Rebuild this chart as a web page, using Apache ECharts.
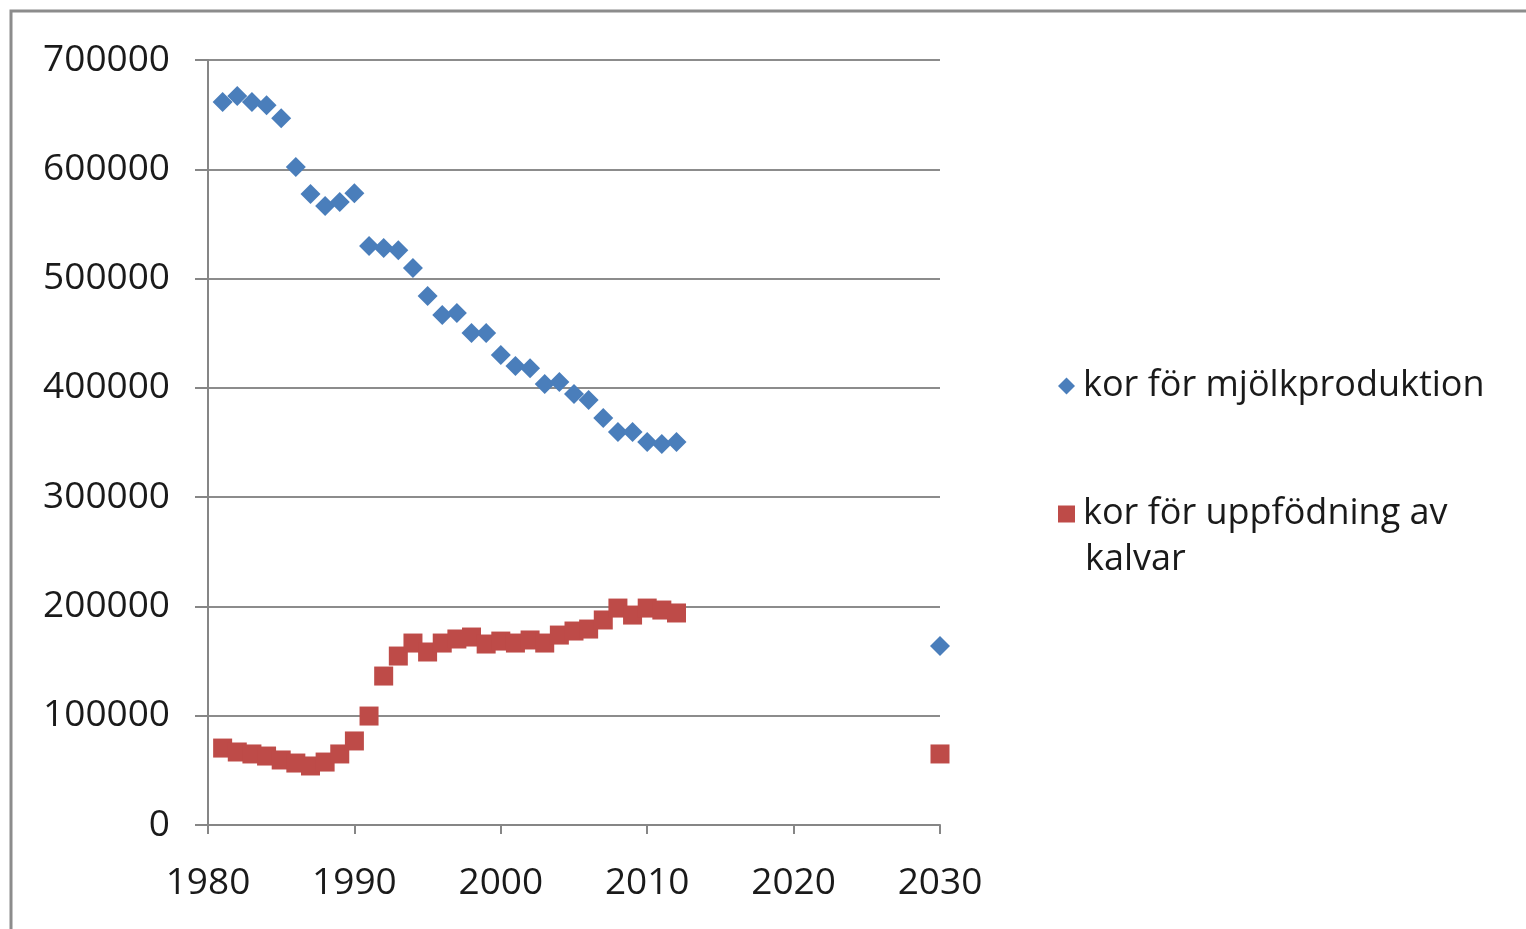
<!DOCTYPE html>
<html>
<head>
<meta charset="utf-8">
<script src="https://cdn.jsdelivr.net/npm/echarts@6/dist/echarts.min.js"></script>
<style>
  html, body { margin: 0; padding: 0; background: #fff; }
  #chart { width: 1526px; height: 929px; }
</style>
</head>
<body>
<div id="chart"></div>
<script>
// år och antal kor
var years = [1981, 1982, 1983, 1984, 1985, 1986, 1987, 1988, 1989, 1990,
    1991, 1992, 1993, 1994, 1995, 1996, 1997, 1998, 1999, 2000,
    2001, 2002, 2003, 2004, 2005, 2006, 2007, 2008, 2009, 2010,
    2011, 2012, 2030];
var mjolk = [661500, 667000, 661500, 658700, 646800, 602000, 577300, 566300, 570000, 578000,
    529700, 528000, 526000, 509600, 484000, 466600, 468400, 450100, 450100, 430000,
    420000, 418000, 403500, 405300, 394300, 388800, 372400, 359600, 359600, 350400,
    348600, 350400, 163800];
var kalvar = [70400, 66800, 65000, 63100, 59500, 56700, 54000, 57600, 65000, 76900,
    99700, 136300, 154600, 166500, 158300, 166500, 170200, 172000, 165600, 168300,
    166500, 169300, 166500, 173800, 177500, 179300, 187600, 198500, 192100, 198500,
    196700, 194000, 65000];
var names = ['kor för mjölkproduktion', 'kor för uppfödning av kalvar'];

function pairs(vals) {
    return years.map(function (y, i) { return [y, vals[i]]; });
}

var font = 'Open Sans, sans-serif';
var chart = echarts.init(document.getElementById('chart'));
chart.setOption({
    animation: false,
    textStyle: { fontFamily: font },
    grid: { left: 208, right: 586, top: 60, bottom: 104 },
    xAxis: {
        type: 'value',
        min: 1980, max: 2030, interval: 10,
        axisLine: { lineStyle: { color: '#868686', width: 2 } },
        axisTick: { length: 9, lineStyle: { color: '#868686', width: 2 } },
        axisLabel: {
            color: '#1a1a1a', fontSize: 37, margin: 40, fontFamily: font,
            formatter: function (v) { return String(v); }
        },
        splitLine: { show: false }
    },
    yAxis: {
        type: 'value',
        min: 0, max: 700000, interval: 100000,
        axisLine: { show: true, lineStyle: { color: '#868686', width: 2 } },
        axisTick: { show: true, length: 13, lineStyle: { color: '#868686', width: 2 } },
        axisLabel: {
            color: '#1a1a1a', fontSize: 37, margin: 38, fontFamily: font,
            padding: [4, 0, 0, 0],
            formatter: function (v) { return String(v); }
        },
        splitLine: { lineStyle: { color: '#8c8c8c', width: 2 } }
    },
    legend: [{
        data: [{ name: names[0], icon: 'diamond' }],
        left: 1053, top: 363,
        itemWidth: 17, itemHeight: 17,
        textStyle: { fontSize: 36, color: '#1a1a1a', fontFamily: font, padding: [0, 0, 0, 3] }
    }, {
        data: [{ name: names[1], icon: 'rect' }],
        left: 1053, top: 491,
        itemWidth: 17, itemHeight: 17,
        formatter: function () { return 'kor för uppfödning av'; },
        textStyle: { fontSize: 36, color: '#1a1a1a', fontFamily: font, padding: [0, 0, 0, 3] }
    }],
    graphic: [{
        type: 'rect',
        shape: { x: 11, y: 11, width: 1600, height: 1000 },
        style: { fill: 'none', stroke: '#8c8c8c', lineWidth: 3 },
        silent: true
    }, {
        type: 'text',
        left: 1085, top: 542,
        style: { text: 'kalvar', font: '36px ' + font, fill: '#1a1a1a' }
    }],
    series: [{
        name: names[0],
        type: 'scatter',
        symbol: 'diamond',
        symbolSize: 20,
        itemStyle: { color: '#4A7EBB', opacity: 1 },
        data: pairs(mjolk)
    }, {
        name: names[1],
        type: 'scatter',
        symbol: 'rect',
        symbolSize: 19,
        itemStyle: { color: '#BE4B48', opacity: 1 },
        data: pairs(kalvar)
    }]
});
</script>
</body>
</html>
